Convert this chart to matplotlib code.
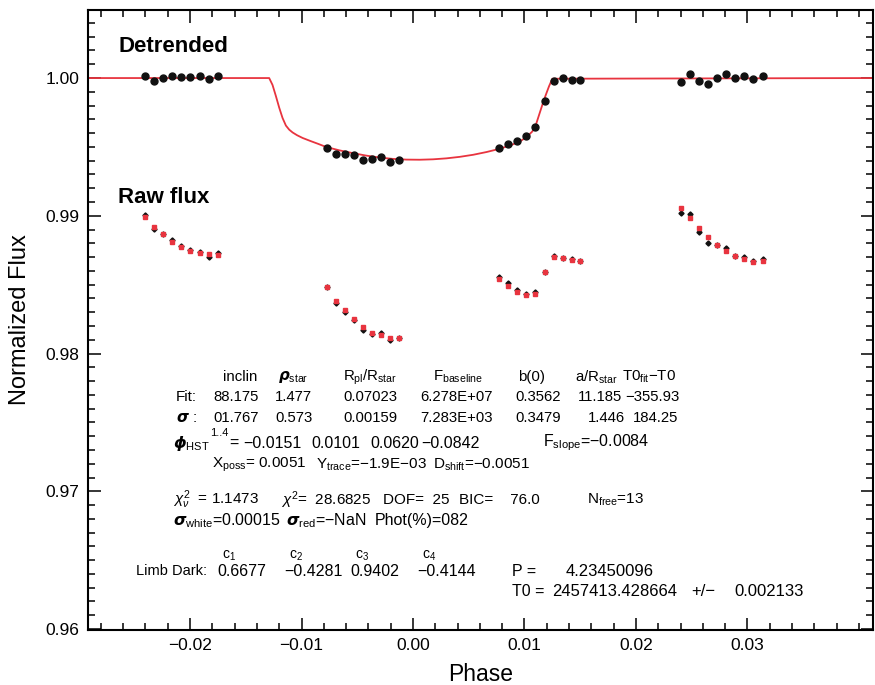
import numpy as np
import matplotlib
matplotlib.use("Agg")
import matplotlib.pyplot as plt
from matplotlib.ticker import MultipleLocator, FixedLocator

plt.rcParams['font.family'] = ['Liberation Sans', 'DejaVu Sans']
plt.rcParams['mathtext.fontset'] = 'custom'
plt.rcParams['mathtext.rm'] = 'Liberation Sans'
plt.rcParams['mathtext.it'] = 'Liberation Sans:italic'
plt.rcParams['mathtext.bf'] = 'Liberation Sans:bold'

RED = '#e8343f'

# detrended light curve (black dots)
det_phase = [-0.02404, -0.02323, -0.02239, -0.02159, -0.02078, -0.01997, -0.01913, -0.01832, -0.01752,
             -0.00774, -0.00693, -0.00613, -0.00529, -0.00448, -0.00368, -0.00284, -0.00204, -0.00123,
             0.00771, 0.00852, 0.00935, 0.01016, 0.01097, 0.01181, 0.01262, 0.01343, 0.01426, 0.01498,
             0.02401, 0.02482, 0.02562, 0.02643, 0.02726, 0.02807, 0.02891, 0.02971, 0.03052, 0.03136]
det_flux = [1.00015, 0.99980, 1.00000, 1.00015, 1.00005, 1.00005, 1.00015, 0.99991, 1.00015,
            0.99490, 0.99448, 0.99448, 0.99441, 0.99405, 0.99410, 0.99427, 0.99390, 0.99405,
            0.99490, 0.99521, 0.99543, 0.99577, 0.99644, 0.99833, 0.99980, 0.99998, 0.99983, 0.99985,
            0.99969, 1.00031, 0.99976, 0.99959, 1.00000, 1.00027, 1.00000, 1.00017, 0.99995, 1.00017]

# raw flux (black) and systematics model (red)
raw_flux = [0.99005, 0.98904, 0.98870, 0.98824, 0.98780, 0.98751, 0.98739, 0.98703, 0.98732,
            0.98485, 0.98367, 0.98301, 0.98243, 0.98171, 0.98139, 0.98149, 0.98098, 0.98110,
            0.98557, 0.98514, 0.98461, 0.98434, 0.98444, 0.98592, 0.98708, 0.98693, 0.98686, 0.98672,
            0.99022, 0.99013, 0.98884, 0.98800, 0.98788, 0.98768, 0.98708, 0.98701, 0.98672, 0.98686]
raw_model = [0.98993, 0.98920, 0.98865, 0.98807, 0.98771, 0.98744, 0.98730, 0.98720, 0.98715,
             0.98481, 0.98383, 0.98314, 0.98248, 0.98195, 0.98151, 0.98132, 0.98115, 0.98110,
             0.98541, 0.98492, 0.98444, 0.98427, 0.98434, 0.98589, 0.98701, 0.98693, 0.98679, 0.98672,
             0.99054, 0.98981, 0.98909, 0.98844, 0.98788, 0.98742, 0.98706, 0.98684, 0.98666, 0.98669]

# transit model curve
model_phase = [-0.0292, -0.0129, -0.0126, -0.0123, -0.0120, -0.0117, -0.0114, -0.0111, -0.0108,
               -0.0104, -0.0099, -0.0092, -0.0085, -0.0078, -0.0066, -0.0054, -0.0042, -0.0030,
               -0.0018, -0.0006, 0.0006, 0.0018, 0.0030, 0.0042, 0.0054, 0.0066, 0.0077, 0.0088,
               0.0097, 0.0103, 0.0107, 0.0110, 0.0113, 0.0116, 0.0119, 0.0122, 0.0125, 0.0413]
model_flux = [1.0, 1.0, 0.99950, 0.99870, 0.99785, 0.99710, 0.99655, 0.99625, 0.99605,
              0.99585, 0.99565, 0.99543, 0.99522, 0.99500, 0.99475, 0.99455, 0.99437, 0.99423,
              0.99413, 0.99408, 0.99407, 0.99410, 0.99417, 0.99428, 0.99443, 0.99463, 0.99485, 0.99513,
              0.99545, 0.99580, 0.99612, 0.99655, 0.99730, 0.99805, 0.99875, 0.99940, 0.99995, 1.0]

param_names = ['inclin', r'$\boldsymbol{\rho}_{\rm star}$', r'R$_{\rm pl}$/R$_{\rm star}$',
               r'F$_{\rm baseline}$', 'b(0)', r'a/R$_{\rm star}$', r'T0$_{\rm fit}$−T0']
fit_vals = ['88.175', '1.477', '0.07023', '6.278E+07', '0.3562', '11.185', '−355.93']
sig_vals = ['01.767', '0.573', '0.00159', '7.283E+03', '0.3479', '1.446', '184.25']
phi_vals = ['−0.0151', '0.0101', '0.0620', '−0.0842']
ld_coeffs = ['0.6677', '−0.4281', '0.9402', '−0.4144']

fig = plt.figure(figsize=(8.75, 6.85), dpi=100)
ax = fig.add_axes([88 / 875, 1 - 630 / 685, 785 / 875, 620 / 685])

ax.plot(model_phase, model_flux, color=RED, lw=1.3, zorder=2)
ax.plot(det_phase, det_flux, 'o', color='#111111', ms=5, zorder=3)
ax.plot(det_phase, raw_flux, 'D', color='#111111', ms=2.6, zorder=3)
ax.plot(det_phase, raw_model, 's', color=RED, ms=3, zorder=4)

ax.set_xlim(-0.02915, 0.04126)
ax.set_ylim(0.95993, 1.00494)
ax.xaxis.set_major_locator(FixedLocator([-0.02, -0.01, 0.0, 0.01, 0.02, 0.03]))
ax.xaxis.set_minor_locator(MultipleLocator(0.002))
ax.yaxis.set_major_locator(MultipleLocator(0.01))
ax.yaxis.set_minor_locator(MultipleLocator(0.001))
ax.xaxis.set_major_formatter(plt.FuncFormatter(lambda v, p: f'{v:.2f}'.replace('-', '−')))
ax.yaxis.set_major_formatter(plt.FuncFormatter(lambda v, p: f'{v:.2f}'))
ax.tick_params(which='both', direction='in', top=True, right=True, width=1.1, labelsize=12.5, pad=6)
ax.tick_params(which='major', length=9)
ax.tick_params(which='minor', length=5)
for s in ax.spines.values():
    s.set_linewidth(1.5)
ax.set_xlabel('Phase', fontsize=16.5)
ax.xaxis.set_label_coords(0.5, -0.053)
ax.set_ylabel('Normalized Flux', fontsize=17)
ax.yaxis.set_label_coords(-0.073, 0.5)


def T(x, y, s, fs=11.5, **kw):
    fig.text(x / 875, 1 - y / 685, s, va='center', ha='left', fontsize=fs, **kw)


T(118, 47, 'Detrended', fs=16, fontweight='bold')
T(118, 197, 'Raw flux', fs=16, fontweight='bold')

# fit parameter table
name_x = [223, 278, 343, 433, 518, 575, 622]
fit_x = [213, 275, 343, 420, 515, 578, 625]
sig_x = [213, 275, 343, 420, 515, 588, 633]
for nx, nm in zip(name_x, param_names):
    T(nx, 377, nm, fs=10.8)
T(176, 397, 'Fit:', fs=11)
T(176, 418, r'$\boldsymbol{\sigma}$ :', fs=11)
for fx, v in zip(fit_x, fit_vals):
    T(fx, 397, v, fs=10.7)
for sx, v in zip(sig_x, sig_vals):
    T(sx, 418, v, fs=10.7)

T(173, 443, r'$\boldsymbol{\phi}_{\rm HST}$')
T(210, 433, '1..4', fs=8)
T(229, 443, '=')
for px, v in zip([243, 311, 370, 421], phi_vals):
    T(px, 443, v)
T(543, 443, r'F$_{\rm slope}$=−0.0084')
T(212, 465, r'X$_{\rm poss}$= 0.0051', fs=11)
T(316, 465, r'Y$_{\rm trace}$=−1.9E−03', fs=11)
T(433, 465, r'D$_{\rm shift}$=−0.0051', fs=11)

T(173, 500, r'$\chi^2_\nu$  = 1.1473', fs=11)
T(281, 500, r'$\chi^2$=  28.6825', fs=11)
T(383, 500, 'DOF=  25', fs=11)
T(459, 500, 'BIC=    76.0', fs=11)
T(587, 500, r'N$_{\rm free}$=13', fs=11)
T(173, 521, r'$\boldsymbol{\sigma}_{\rm white}$=0.00015')
T(286, 521, r'$\boldsymbol{\sigma}_{\rm red}$=−NaN')
T(375, 521, 'Phot(%)=082')

T(136, 571, 'Limb Dark:', fs=10.5)
ld_x = [217, 284, 350, 417]
for i, (lx, c) in enumerate(zip(ld_x, ld_coeffs)):
    T(lx, 571, c)
    T(lx + 5, 556, r'c$_{%d}$' % (i + 1), fs=10)
T(512, 571, 'P =')
T(566, 571, '4.23450096', fs=12)
T(512, 592, 'T0 =')
T(552, 592, '2457413.428664', fs=12)
T(691, 592, '+/−', fs=12)
T(734, 592, '0.002133', fs=12)

fig.savefig('out.png', dpi=100)
